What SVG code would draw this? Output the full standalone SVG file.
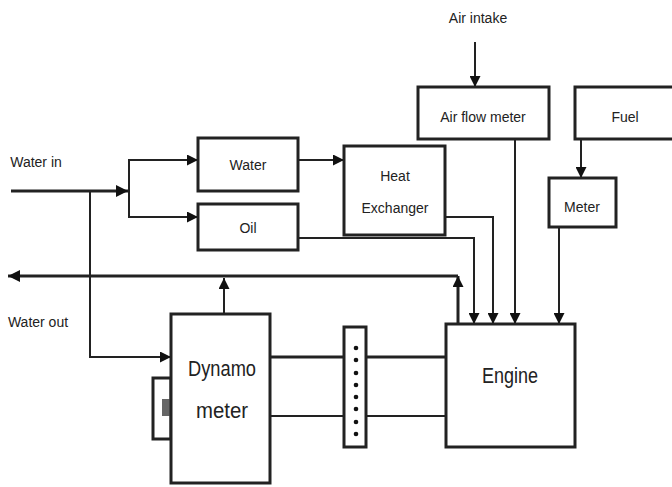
<svg xmlns="http://www.w3.org/2000/svg" width="672" height="487" viewBox="0 0 672 487">
<style>
.box{fill:#fff;stroke:#222;stroke-width:3}
.ln{fill:none;stroke:#222;stroke-width:2}
.thk{fill:none;stroke:#222;stroke-width:3}
.t{font-family:"Liberation Sans",Arial,sans-serif;fill:#222;text-anchor:middle}
.s{font-size:14px}
.b{font-size:22px}
</style>
<defs>
<marker id="ah" viewBox="0 0 10 10" refX="10" refY="5" markerWidth="11" markerHeight="11" markerUnits="userSpaceOnUse" orient="auto">
<path d="M0,0 L10,5 L0,10 Z" fill="#111"/>
</marker>
<marker id="ahb" viewBox="0 0 10 10" refX="10" refY="5" markerWidth="12" markerHeight="12" markerUnits="userSpaceOnUse" orient="auto">
<path d="M0,0 L10,5 L0,10 Z" fill="#111"/>
</marker>
</defs>
<g id="connectors">
<path class="thk" d="M11,191 H128" marker-end="url(#ahb)"/>
<path class="ln" d="M90,191 V357 H171" marker-end="url(#ah)"/>
<path class="ln" d="M129,191 V160 H198" marker-end="url(#ah)"/>
<path class="ln" d="M129,191 V217 H198" marker-end="url(#ah)"/>
<path class="ln" d="M298,160 H344" marker-end="url(#ah)"/>
<path class="ln" d="M475,42 V87" marker-end="url(#ah)"/>
<path class="ln" d="M581,139 V178" marker-end="url(#ah)"/>
<path class="ln" d="M446,217 H493 V324" marker-end="url(#ah)"/>
<path class="ln" d="M298,238 H474 V324" marker-end="url(#ah)"/>
<path class="ln" d="M515,139 V324" marker-end="url(#ah)"/>
<path class="ln" d="M559,227 V324" marker-end="url(#ah)"/>
<path class="thk" d="M458,324 V276" marker-end="url(#ah)"/>
<path class="thk" d="M458,276 H8" marker-end="url(#ahb)"/>
<path class="ln" d="M224,314 V278" marker-end="url(#ah)"/>
<path class="thk" d="M270,357 H446"/>
<path class="ln" d="M270,416 H446" stroke-width="2.5"/>
</g>
<g id="water"><rect class="box" x="198" y="138" width="100" height="53"/><text class="t s" x="248" y="170">Water</text></g>
<g id="oil"><rect class="box" x="198" y="204" width="100" height="46"/><text class="t s" x="248" y="233">Oil</text></g>
<g id="heat-exchanger"><rect class="box" x="344" y="146" width="101" height="89"/><text class="t s" x="395" y="181">Heat</text><text class="t s" x="395" y="213">Exchanger</text></g>
<g id="air-flow-meter"><rect class="box" x="418" y="87" width="131" height="52"/><text class="t s" x="483" y="122">Air flow meter</text></g>
<g id="fuel"><rect class="box" x="575" y="87" width="100" height="52"/><text class="t s" x="625" y="122">Fuel</text></g>
<g id="meter"><rect class="box" x="549" y="178" width="67" height="49"/><text class="t s" x="582" y="212">Meter</text></g>
<g id="dynamometer">
<rect class="box" x="153" y="378" width="18" height="61" stroke-width="2"/>
<rect x="162" y="399" width="9" height="17" fill="#666"/>
<rect class="box" x="171" y="314" width="99" height="169"/>
<text class="t b" x="222" y="376" textLength="68" lengthAdjust="spacingAndGlyphs">Dynamo</text><text class="t b" x="222" y="418" textLength="52" lengthAdjust="spacingAndGlyphs">meter</text>
</g>
<g id="coupling">
<rect class="box" x="344" y="327" width="22" height="120" stroke-width="2"/>
<g fill="#111"><circle cx="356" cy="348" r="2.3"/><circle cx="356" cy="360" r="2.3"/><circle cx="356" cy="373" r="2.3"/><circle cx="356" cy="385" r="2.3"/><circle cx="356" cy="397" r="2.3"/><circle cx="356" cy="409" r="2.3"/><circle cx="356" cy="422" r="2.3"/><circle cx="356" cy="434" r="2.3"/></g>
</g>
<g id="engine"><rect class="box" x="446" y="324" width="129" height="123"/><text class="t b" x="510" y="383" textLength="56" lengthAdjust="spacingAndGlyphs">Engine</text></g>
<g id="labels">
<text class="t s" x="478" y="23">Air intake</text>
<text class="t s" x="36" y="167">Water in</text>
<text class="t s" x="38" y="327">Water out</text>
</g>
</svg>
